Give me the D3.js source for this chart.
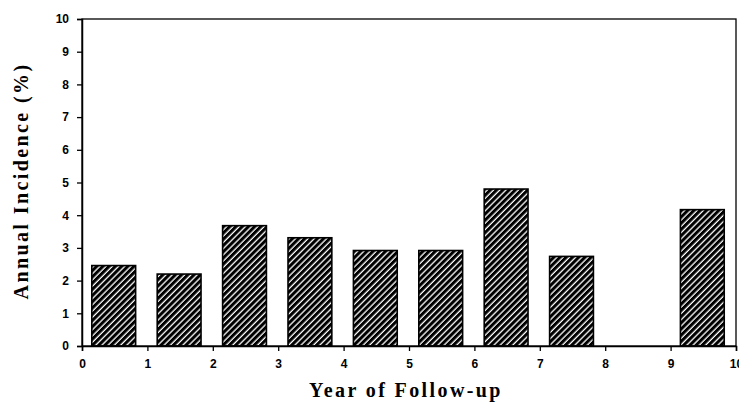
<!DOCTYPE html>
<html>
<head>
<meta charset="utf-8">
<title>Annual Incidence</title>
<style>
  body { margin: 0; background: #fff; }
  .tick text { font-family: "Liberation Sans", Arial, sans-serif; font-weight: bold; font-size: 12px; }
  .title { font-family: "Liberation Serif", "Times New Roman", serif; font-weight: bold; font-size: 20px; letter-spacing: 2.4px; }
</style>
</head>
<body>
<div id="chart"></div>
<script src="https://cdn.jsdelivr.net/npm/d3@7"></script>
<script>
// data
var years = [0, 1, 2, 3, 4, 5, 6, 7, 8, 9];
var incidence = [2.46, 2.2, 3.68, 3.31, 2.92, 2.92, 4.8, 2.74, 0, 4.17];
var xTicks = [0, 1, 2, 3, 4, 5, 6, 7, 8, 9, 10];
var yTicks = [0, 1, 2, 3, 4, 5, 6, 7, 8, 9, 10];

var w = 739, h = 403;
var m = {left: 82, right: 2, top: 19, bottom: 57};

var svg = d3.select("#chart").append("svg")
  .attr("width", w)
  .attr("height", h);

// hatch fill
var pat = svg.append("defs").append("pattern")
  .attr("id", "hatch")
  .attr("patternUnits", "userSpaceOnUse")
  .attr("width", 4.4)
  .attr("height", 4.4)
  .attr("patternTransform", "rotate(-45)");
pat.append("rect").attr("width", 4.4).attr("height", 4.4).attr("fill", "#fff");
pat.append("rect").attr("width", 4.4).attr("height", 3.1).attr("fill", "#000");

var x = d3.scaleLinear().domain([0, 10]).range([m.left, w - m.right - 1]);
var y = d3.scaleLinear().domain([0, 10]).range([h - m.bottom, m.top]);

// bars
svg.selectAll(".bar")
  .data(years)
  .enter()
  .filter(function(d, i) { return incidence[i] > 0; })
  .append("rect")
  .attr("class", "bar")
  .attr("x", function(d) { return x(d + 0.15); })
  .attr("y", function(d) { return y(incidence[d]); })
  .attr("width", function(d) { return x(d + 0.82) - x(d + 0.15); })
  .attr("height", function(d) { return y(0) - y(incidence[d]); })
  .attr("fill", "url(#hatch)")
  .attr("stroke", "#000")
  .attr("stroke-width", 1.6);

// frame
svg.append("rect")
  .attr("x", x(0))
  .attr("y", y(10))
  .attr("width", x(10) - x(0))
  .attr("height", y(0) - y(10))
  .attr("fill", "none")
  .attr("stroke", "#000")
  .attr("stroke-width", 1.3);

var xAxis = svg.append("g")
  .attr("transform", "translate(0," + y(0) + ")")
  .call(d3.axisBottom(x).tickValues(xTicks).tickSize(5).tickPadding(8).tickFormat(d3.format("d")));
var yAxis = svg.append("g")
  .attr("transform", "translate(" + x(0) + ",0)")
  .call(d3.axisLeft(y).tickValues(yTicks).tickSize(5).tickPadding(8).tickFormat(d3.format("d")));

[xAxis, yAxis].forEach(function(a) {
  a.select(".domain").attr("stroke-width", 1.5);
  a.selectAll(".tick line").attr("stroke-width", 1.3);
});

svg.append("text")
  .attr("class", "title")
  .attr("x", 406)
  .attr("y", 397)
  .attr("text-anchor", "middle")
  .text("Year of Follow-up");

svg.append("text")
  .attr("class", "title")
  .attr("transform", "translate(28,181) rotate(-90)")
  .attr("text-anchor", "middle")
  .text("Annual Incidence (%)");
</script>
</body>
</html>
